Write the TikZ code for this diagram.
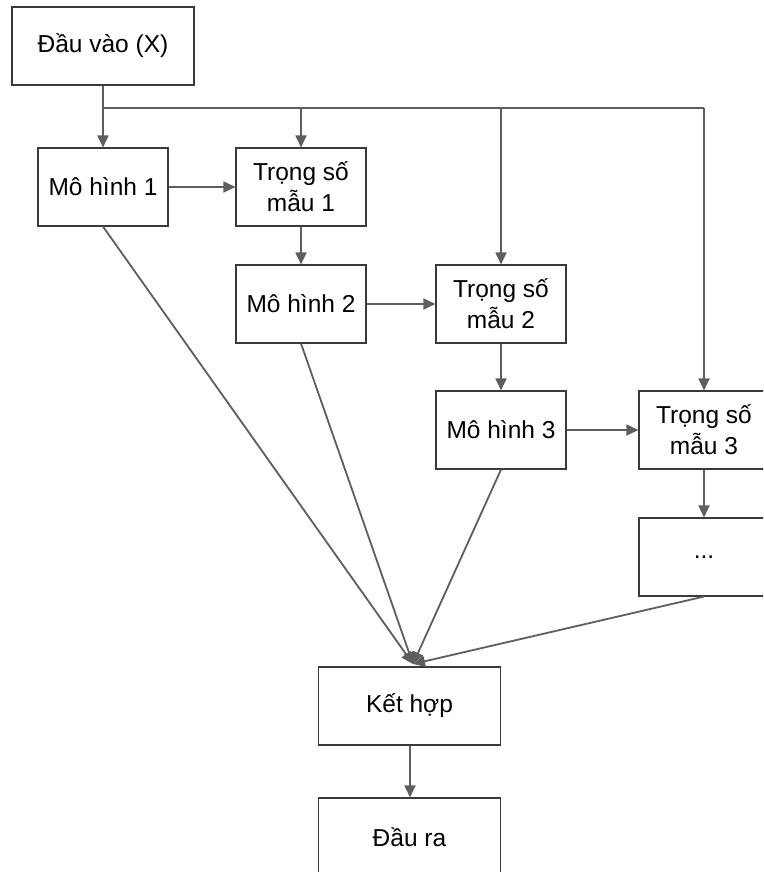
\documentclass[tikz,border=0pt]{standalone}
\usepackage{fontspec}
\setmainfont{Liberation Sans}
\usetikzlibrary{arrows.meta}
\definecolor{linegray}{HTML}{5E5E5E}
\definecolor{boxgray}{HTML}{3A3A3A}
\begin{document}
\begin{tikzpicture}[x=1pt,y=-1pt,
  box/.style={draw=boxgray,line width=1.1pt,fill=white,minimum width=130pt,minimum height=78pt,
    align=center,font=\fontsize{24.5}{31}\selectfont,inner sep=0pt},
  wide/.style={box,minimum width=182pt},
  link/.style={draw=linegray,line width=1.8pt,-{Triangle[length=12pt,width=11pt]}},
  plain/.style={draw=linegray,line width=1.8pt}]
\fill[white] (0,0) rectangle (763,872);
\clip (0,0) rectangle (763,872);
\useasboundingbox (0,0) rectangle (763,872);

% boxes
\node[wide] (in)   at (103,46)    {Đầu vào (X)};
\node[box]  (m1)   at (103,187)   {Mô hình 1};
\node[box]  (w1)   at (301,187)   {Trọng số\\mẫu 1};
\node[box]  (m2)   at (301,304)   {Mô hình 2};
\node[box]  (w2)   at (501,304)   {Trọng số\\mẫu 2};
\node[box]  (m3)   at (501,430)   {Mô hình 3};
\node[box]  (w3)   at (704,430)   {Trọng số\\mẫu 3};
\node[box]  (dots) at (704,557)   {...};
\node[wide] (comb) at (409.5,706) {Kết hợp};
\node[wide] (out)  at (409.5,837) {Đầu ra};

% input bus
\coordinate (b0) at (103,108);
\coordinate (b1) at (301,108);
\coordinate (b2) at (501,108);
\coordinate (b3) at (704,108);
\draw[plain] (b0) -- (b3);
\draw[link] (in.south) -- (m1.north);
\draw[link] (b1) -- (w1.north);
\draw[link] (b2) -- (w2.north);
\draw[link] (b3) -- (w3.north);

% boosting chain
\draw[link] (m1.east) -- (w1.west);
\draw[link] (w1.south) -- (m2.north);
\draw[link] (m2.east) -- (w2.west);
\draw[link] (w2.south) -- (m3.north);
\draw[link] (m3.east) -- (w3.west);
\draw[link] (w3.south) -- (dots.north);

% combination
\coordinate (j) at (413,664);
\draw[link] (m1.south) -- (j);
\draw[link] (m2.south) -- (j);
\draw[link] (m3.south) -- (j);
\draw[link] (dots.south) -- (j);
\draw[link] (comb.south -| 410,0) -- (out.north -| 410,0);
\end{tikzpicture}
\end{document}
